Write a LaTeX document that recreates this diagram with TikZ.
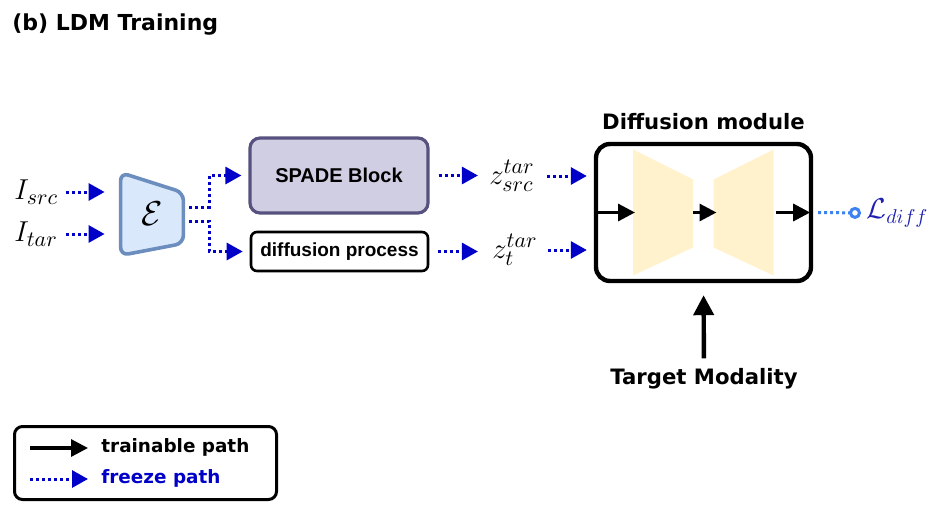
\documentclass[tikz,border=0pt]{standalone}
\usepackage{fontspec}
\newfontfamily\vsans{DejaVu Sans}
\newfontfamily\asans{Liberation Sans}
\usetikzlibrary{arrows.meta,positioning,calc}

\definecolor{frzblue}{HTML}{0000C8}
\definecolor{lossblue}{HTML}{3C82F0}
\definecolor{lossdark}{HTML}{2020B0}
\definecolor{encfill}{HTML}{DAE8FC}
\definecolor{encdraw}{HTML}{6C8EBF}
\definecolor{spadefill}{HTML}{D0CEE2}
\definecolor{spadedraw}{HTML}{56517E}
\definecolor{unetfill}{HTML}{FFF2CC}

\begin{document}
\begin{tikzpicture}[x=0.5pt,y=-0.5pt,
  freeze/.style={frzblue,line width=1.5pt,dash pattern=on 1.5pt off 1.5pt,-{Triangle[length=8pt,width=8.5pt]}},
  train/.style={black,line width=1.6pt,-{Triangle[length=8.5pt,width=8.5pt]}},
  lossline/.style={lossblue,line width=1.5pt,dash pattern=on 1.5pt off 1.5pt,-{Circle[open,length=6pt,width=6pt,fill=white]}},
  tgtarrow/.style={black,line width=2.2pt,-{Triangle[length=10pt,width=10pt]}},
  ttl/.style={inner sep=0pt,font=\vsans\bfseries\fontsize{11}{13}\selectfont},
  bfsans/.style={inner sep=0pt,font=\vsans\bfseries\fontsize{10.6}{13}\selectfont},
  legtxt/.style={inner sep=0pt,font=\vsans\bfseries\fontsize{9.2}{11}\selectfont},
  mathlbl/.style={inner sep=0pt,font=\fontsize{15}{18}\selectfont},
  encbox/.style={inner sep=0pt,minimum width=31pt,minimum height=41pt,font=\fontsize{18}{20}\selectfont},
  encshape/.style={draw=encdraw,fill=encfill,line width=1.8pt,rounded corners=4pt},
  spadebox/.style={draw=spadedraw,fill=spadefill,line width=1.6pt,rounded corners=5pt,
    minimum width=89pt,minimum height=37.5pt,font=\asans\bfseries\fontsize{10}{12}\selectfont},
  procbox/.style={draw=black,fill=white,line width=1.3pt,rounded corners=3pt,
    minimum width=88.5pt,minimum height=19.5pt,inner sep=0pt,font=\asans\bfseries\fontsize{9.5}{11}\selectfont},
  dmbox/.style={draw=black,line width=2.2pt,rounded corners=7pt,minimum width=107.5pt,minimum height=68.5pt},
  half/.style={inner sep=0pt,outer sep=0pt,minimum width=30pt,minimum height=63pt},
  legbox/.style={draw=black,line width=1.5pt,rounded corners=4pt,minimum width=131pt,minimum height=36.5pt}]
\useasboundingbox (0,0) rectangle (943,530);

% title
\node[ttl,anchor=west] (title) at (12,25) {(b) LDM Training};

% inputs and encoder
\node[mathlbl,anchor=west] (isrc) at (14,192) {$I_{src}$};
\node[mathlbl,anchor=west] (itar) at (14,234) {$I_{tar}$};
\node[encbox] (enc) at (152,214) {};
\draw[encshape] (enc.north west) -- ($(enc.north east)+(0,20)$) -- ($(enc.south east)+(0,-12)$) -- (enc.south west) -- cycle;
\node[encbox] at (enc.center) {$\mathcal{E}$};
\draw[freeze,shorten <=4pt,shorten >=8pt] (isrc.east) -- (isrc.east -| enc.west);
\draw[freeze,shorten <=4pt,shorten >=8pt] (itar.east) -- (itar.east -| enc.west);

% SPADE and diffusion process
\node[spadebox] (spade) at (339,175.5) {SPADE Block};
\node[procbox] (dproc) at (339.5,251.5) {diffusion process};
\draw[freeze,shorten >=3.5pt] ($(enc.east)+(6,-7)$) -- ++(20,0) |- (spade.west);
\draw[freeze,shorten >=3.5pt] ($(enc.east)+(6,7)$) -- ++(20,0) |- (dproc.west);

% latents
\node[mathlbl] (zsrc) at (512,176) {$z^{tar}_{src}$};
\node[mathlbl] (zt) at (515,250) {$z^{tar}_{t}$};
\draw[freeze,shorten <=4.5pt,shorten >=5.5pt] (spade.east) -- (spade.east -| zsrc.west);
\draw[freeze,shorten <=4.5pt,shorten >=5.5pt] (dproc.east) -- (dproc.east -| zsrc.west);

% diffusion module
\node[dmbox] (dm) at (703.5,212.5) {};
\node[bfsans,above=6pt of dm] (dmlbl) {Diffusion module};
\node[half] (down) at (663,212.5) {};
\node[half] (up) at (743.5,212.5) {};
\fill[unetfill] (down.north west) -- ($(down.north east)+(0,30)$) -- ($(down.south east)+(0,-28)$) -- (down.south west) -- cycle;
\fill[unetfill] ($(up.north west)+(0,30)$) -- (up.north east) -- (up.south east) -- ($(up.south west)+(0,-28)$) -- cycle;
\draw[freeze,shorten <=6pt,shorten >=3.5pt] (zsrc.east) -- (zsrc.east -| dm.west);
\draw[freeze,shorten <=5pt,shorten >=3.5pt] (zt.east) -- (zt.east -| dm.west);
\draw[train,shorten >=-1pt] (dm.west) -- (down.west);
\draw[train,shorten >=-1.5pt] (down.east) -- (up.west);
\draw[train,shorten <=1pt,shorten >=1.5pt] (up.east) -- (dm.east);

% loss
\node[mathlbl,anchor=west,text=lossdark,font=\fontsize{14}{16}\selectfont] (loss) at (866,213) {$\mathcal{L}_{diff}$};
\draw[lossline,shorten <=2.5pt,shorten >=2.5pt] (dm.east) -- (loss.west);

% target modality
\node[bfsans] (tgt) at (704,379) {Target Modality};
\draw[tgtarrow,shorten <=5pt,shorten >=6pt] (tgt.north) -- (dm.south);

% legend
\node[legbox] (legend) at (145.5,463) {};
\coordinate (lgA) at (30,448);
\coordinate (lgB) at (30,479);
\node[legtxt,anchor=west] (lgtrain) at (101,447) {trainable path};
\node[legtxt,anchor=west,text=frzblue] (lgfrz) at (101,478) {freeze path};
\draw[train,shorten >=6.5pt] (lgA) -- (lgA -| lgtrain.west);
\draw[freeze,shorten >=6.5pt] (lgB) -- (lgB -| lgfrz.west);
\end{tikzpicture}
\end{document}
